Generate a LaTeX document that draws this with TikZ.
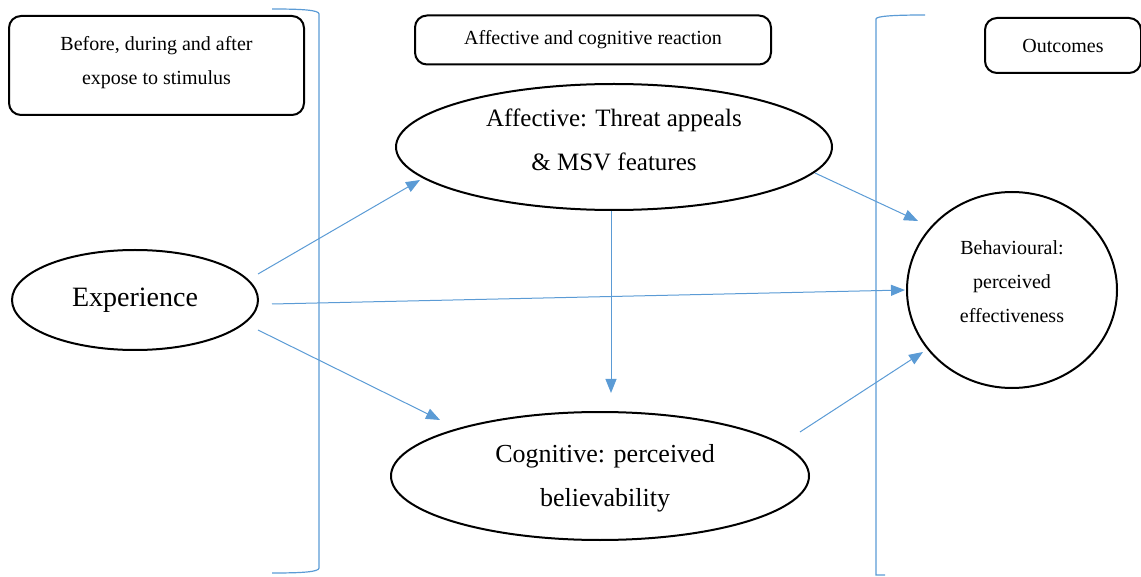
\documentclass[tikz,border=0pt]{standalone}
\usepackage{fontspec}
\setmainfont{Liberation Serif}
\usetikzlibrary{shapes.geometric,arrows.meta}
\definecolor{lineblue}{HTML}{5B9BD5}
\tikzset{
  hdrbox/.style={draw=black, line width=2pt, rounded corners=12pt, inner sep=0pt, align=center},
  oval/.style={draw=black, line width=2pt, ellipse, inner sep=0pt, align=center},
  conn/.style={draw=lineblue, line width=1pt, -{Triangle[length=14pt,width=11pt]}},
  brack/.style={draw=lineblue, line width=1.2pt}
}
\newcommand{\liftstack}[2]{\raisebox{#1}[\height][\depth]{\begin{tabular}{@{}c@{}}#2\end{tabular}}}
\begin{document}
\begin{tikzpicture}[x=1pt,y=-1pt]
\useasboundingbox (0,0) rectangle (1141,577);
% header boxes
\node[hdrbox, minimum width=295pt, minimum height=99pt, font=\fontsize{20}{34}\selectfont] (b1) at (156.5,65.5) {\liftstack{5pt}{Before, during and after\\expose to stimulus}};
\node[hdrbox, minimum width=356pt, minimum height=49pt, font=\fontsize{20}{24}\selectfont] (b2) at (593,40) {Affective and cognitive reaction};
\node[hdrbox, minimum width=156pt, minimum height=55pt, font=\fontsize{20}{24}\selectfont] (b3) at (1063,45.5) {Outcomes};
% brackets
\draw[brack] (272,9) .. controls (302,9) and (319,10) .. (319,14) -- (319,568) .. controls (319,572) and (302,573) .. (272,573);
\draw[brack] (925,15) .. controls (895,15) and (876,16) .. (876,19) -- (876,575) -- (885,575);
% ellipses
\node[oval, minimum width=246pt, minimum height=100pt, font=\fontsize{28}{34}\selectfont] (exp) at (135,300) {Experience};
\node[oval, minimum width=436pt, minimum height=126pt, font=\fontsize{25}{44}\selectfont] (aff) at (614,147) {\liftstack{7pt}{Affective: Threat appeals\\\& MSV features}};
\node[oval, minimum width=418pt, minimum height=128pt, font=\fontsize{26}{44}\selectfont] (cog) at (600,476) {\hspace*{10pt}\liftstack{0pt}{Cognitive: perceived\\believability}};
\node[oval, minimum width=210pt, minimum height=196pt, font=\fontsize{20}{34}\selectfont] (beh) at (1012,290) {\liftstack{8pt}{Behavioural:\\perceived\\effectiveness}};
% connector endpoints
\coordinate (e1) at (258,274);
\coordinate (e2) at (272,304);
\coordinate (e3) at (258,330);
\coordinate (a1) at (611,211);
\coordinate (a2) at (815,173);
\coordinate (c1) at (800,432);
\coordinate (t1) at (420,180);
\coordinate (t2) at (905,290);
\coordinate (t3) at (440,420);
\coordinate (t4) at (611,393);
\coordinate (t5) at (918,221);
\coordinate (t6) at (923,352);
\draw[conn] (e1) -- (t1);
\draw[conn] (e2) -- (t2);
\draw[conn] (e3) -- (t3);
\draw[conn] (a1) -- (t4);
\draw[conn] (a2) -- (t5);
\draw[conn] (c1) -- (t6);
\end{tikzpicture}
\end{document}
